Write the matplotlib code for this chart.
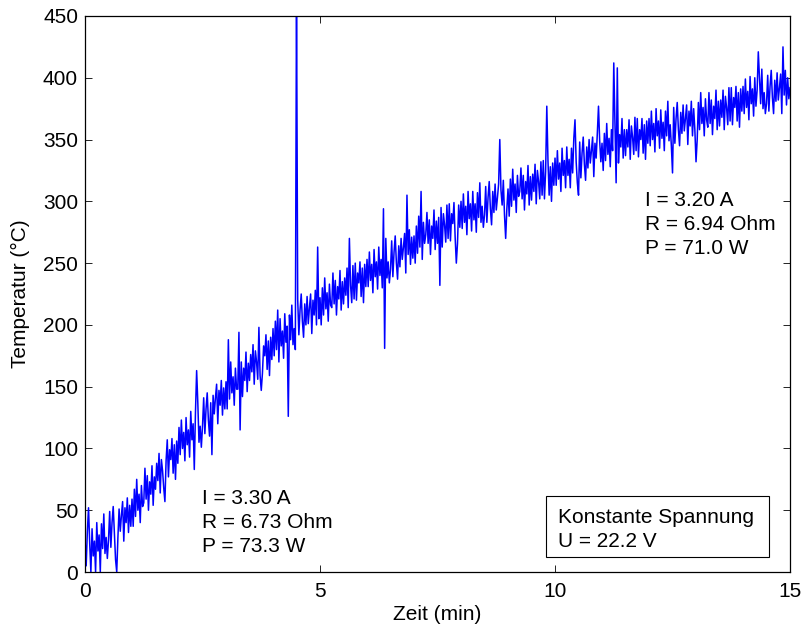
import numpy as np
import matplotlib
matplotlib.use("Agg")
import matplotlib.pyplot as plt
from matplotlib.patches import Rectangle

plt.rcParams['font.family'] = ['Liberation Sans', 'DejaVu Sans']

t_step = 0.025
temp_h00 = [27, 5, 33, 52, 23, 0, 35, 13, 25, 0, 40, 17, 30, 0, 39, 19, 47, 15, 28, 11]
temp_h01 = [26, 49, 20, 40, 53, 31, 10, 0, 28, 51, 33, 46, 57, 25, 52, 40, 60, 32, 54, 37]
temp_h02 = [59, 37, 67, 45, 75, 50, 63, 40, 70, 53, 56, 84, 59, 78, 50, 73, 63, 86, 54, 77]
temp_h03 = [67, 88, 74, 96, 64, 91, 82, 68, 57, 90, 107, 77, 99, 91, 108, 80, 103, 75, 106, 88]
temp_h04 = [117, 95, 123, 100, 113, 90, 125, 103, 115, 93, 130, 107, 120, 83, 129, 163, 137, 105, 118, 101]
temp_h05 = [118, 141, 112, 132, 145, 123, 110, 137, 95, 143, 128, 141, 152, 120, 147, 135, 155, 127, 149, 132]
temp_h06 = [154, 132, 188, 140, 170, 145, 158, 135, 165, 148, 148, 194, 115, 170, 142, 165, 155, 178, 146, 169]
temp_h07 = [155, 176, 162, 184, 152, 179, 170, 156, 198, 159, 147, 161, 183, 175, 192, 164, 187, 159, 190, 172]
temp_h08 = [197, 175, 203, 180, 212, 170, 205, 183, 195, 173, 209, 186, 199, 126, 208, 188, 216, 184, 197, 180]
temp_h09 = [470, 221, 192, 212, 225, 203, 190, 217, 200, 223, 201, 214, 225, 193, 220, 208, 228, 200, 263, 205]
temp_h10 = [222, 200, 230, 208, 238, 213, 226, 203, 233, 216, 214, 242, 217, 236, 208, 231, 221, 244, 212, 235]
temp_h11 = [217, 238, 224, 246, 214, 270, 232, 218, 248, 221, 250, 220, 242, 234, 251, 223, 246, 218, 249, 231]
temp_h12 = [253, 231, 259, 236, 249, 226, 261, 239, 251, 229, 263, 240, 253, 230, 294, 181, 270, 238, 251, 234]
temp_h13 = [245, 268, 239, 259, 272, 250, 237, 264, 247, 270, 253, 263, 274, 242, 305, 257, 277, 249, 271, 254]
temp_h14 = [272, 250, 280, 258, 288, 263, 308, 253, 283, 266, 273, 291, 266, 285, 257, 280, 270, 293, 261, 284]
temp_h15 = [266, 287, 232, 295, 263, 290, 281, 267, 297, 270, 298, 268, 290, 282, 299, 271, 250, 266, 297, 279]
temp_h16 = [300, 278, 306, 283, 296, 273, 308, 286, 298, 276, 308, 285, 298, 275, 307, 287, 315, 283, 296, 279]
temp_h17 = [289, 312, 283, 303, 316, 294, 281, 308, 291, 314, 293, 303, 314, 350, 309, 297, 317, 289, 270, 294]
temp_h18 = [310, 288, 318, 296, 326, 301, 314, 291, 321, 304, 308, 327, 302, 321, 293, 316, 306, 329, 297, 320]
temp_h19 = [301, 322, 308, 330, 298, 325, 316, 302, 332, 305, 333, 302, 324, 377, 333, 305, 328, 300, 331, 313]
temp_h20 = [335, 313, 341, 318, 331, 308, 343, 321, 333, 311, 344, 321, 334, 311, 343, 323, 351, 366, 332, 315]
temp_h21 = [305, 348, 319, 339, 352, 330, 317, 344, 327, 350, 331, 341, 352, 320, 347, 335, 355, 377, 349, 332]
temp_h22 = [347, 325, 355, 333, 363, 338, 351, 328, 358, 341, 412, 365, 315, 408, 331, 354, 344, 367, 335, 358]
temp_h23 = [337, 358, 344, 366, 334, 361, 352, 338, 368, 341, 367, 336, 358, 350, 367, 339, 362, 334, 365, 347]
temp_h24 = [367, 345, 373, 350, 363, 340, 375, 353, 365, 343, 374, 351, 364, 341, 373, 353, 381, 349, 362, 345]
temp_h25 = [323, 376, 347, 367, 380, 358, 345, 372, 355, 378, 357, 367, 378, 346, 373, 361, 381, 353, 375, 358]
temp_h26 = [332, 350, 380, 358, 388, 363, 376, 353, 383, 366, 360, 388, 363, 382, 354, 377, 367, 390, 358, 381]
temp_h27 = [361, 382, 368, 390, 358, 385, 376, 362, 392, 365, 392, 362, 384, 376, 393, 365, 388, 360, 391, 373]
temp_h28 = [393, 371, 399, 376, 389, 366, 401, 379, 391, 369, 400, 377, 390, 421, 399, 379, 407, 375, 388, 371]
temp_h29 = [379, 402, 373, 393, 406, 384, 371, 398, 381, 404, 382, 392, 403, 371, 425, 386, 406, 378, 400, 383]
temp_end = [392]

temp = (temp_h00 + temp_h01 + temp_h02 + temp_h03 + temp_h04 + temp_h05 + temp_h06
        + temp_h07 + temp_h08 + temp_h09 + temp_h10 + temp_h11 + temp_h12 + temp_h13
        + temp_h14 + temp_h15 + temp_h16 + temp_h17 + temp_h18 + temp_h19 + temp_h20
        + temp_h21 + temp_h22 + temp_h23 + temp_h24 + temp_h25 + temp_h26 + temp_h27
        + temp_h28 + temp_h29 + temp_end)
zeit = np.arange(len(temp)) * t_step

x_ticks = [0, 5, 10, 15]
y_ticks = [0, 50, 100, 150, 200, 250, 300, 350, 400, 450]

text_start = ["I = 3.30 A", "R = 6.73 Ohm", "P = 73.3 W"]
text_ende = ["I = 3.20 A", "R = 6.94 Ohm", "P = 71.0 W"]
text_box = ["Konstante Spannung", "U = 22.2 V"]

fs = 15

fig = plt.figure(figsize=(8.05, 6.32), dpi=100)
ax = fig.add_axes([0.1056, 0.0949, 0.8758, 0.8798])

ax.plot(zeit, temp, color='#0000ff', linewidth=1.1)

ax.set_xlim(0, 15)
ax.set_ylim(0, 450)
ax.set_xticks(x_ticks)
ax.set_yticks(y_ticks)
ax.tick_params(direction='in', top=True, right=True, length=5, labelsize=fs, width=0.6)
ax.tick_params(axis='x', pad=7)
ax.tick_params(axis='y', pad=5)
for s in ax.spines.values():
    s.set_linewidth(0.9)

ax.set_xlabel('Zeit (min)', fontsize=fs, labelpad=3)
ax.set_ylabel('Temperatur (°C)', fontsize=fs, labelpad=9)

# Beschriftungen
for i, s in enumerate(text_start):
    ax.text(2.49, 59.1 - i * 19.4, s, fontsize=fs, va='center', ha='left')
for i, s in enumerate(text_ende):
    ax.text(11.91, 300.3 - i * 19.4, s, fontsize=fs, va='center', ha='left')

ax.add_patch(Rectangle((9.81, 12.1), 4.74, 49.4, fill=True, facecolor='white',
                       edgecolor='black', linewidth=0.8, zorder=3))
for i, s in enumerate(text_box):
    ax.text(10.06, 44.5 - i * 19.4, s, fontsize=fs, va='center', ha='left', zorder=4)

plt.savefig('out.png', dpi=100)
